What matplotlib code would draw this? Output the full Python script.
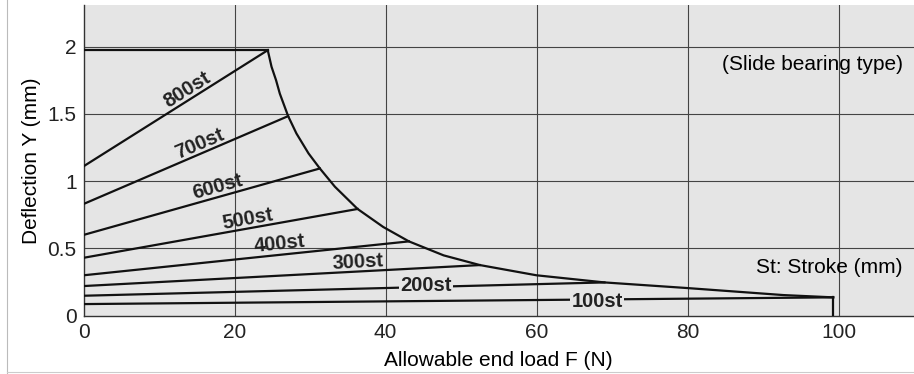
import matplotlib
matplotlib.use("Agg")
import matplotlib.pyplot as plt
from matplotlib.lines import Line2D

plt.rcParams["font.family"] = ["Liberation Sans", "DejaVu Sans"]

# stroke lines: start at F=0, end on the envelope curve
strokes = ["100st", "200st", "300st", "400st", "500st", "600st", "700st", "800st"]
start_y = [0.086, 0.148, 0.22, 0.30, 0.43, 0.60, 0.83, 1.11]
end_f = [99.3, 69.0, 52.5, 43.1, 36.3, 31.3, 27.1, 24.4]
end_y = [0.136, 0.247, 0.376, 0.552, 0.793, 1.094, 1.483, 1.973]

# allowable load envelope
env_f = [24.4, 24.9, 25.5, 26.0, 27.1, 28.2, 29.8, 31.3, 33.3, 36.3, 39.7,
         43.1, 47.7, 52.5, 60.0, 69.0, 80.0, 92.7, 99.3]
env_y = [1.973, 1.85, 1.75, 1.65, 1.483, 1.354, 1.206, 1.094, 0.958, 0.793,
         0.659, 0.552, 0.448, 0.376, 0.30, 0.247, 0.205, 0.153, 0.136]

# label placement
label_f = [68.0, 45.4, 36.4, 26.0, 21.8, 17.8, 15.4, 13.7]
label_y = [0.103, 0.226, 0.40, 0.537, 0.72, 0.955, 1.28, 1.676]
label_rot = [0, 0, 3, 6, 10, 15.5, 23, 32]

xticks = [0, 20, 40, 60, 80, 100]
yticks = [0, 0.5, 1, 1.5, 2]
ytick_labels = ["0", "0.5", "1", "1.5", "2"]

bg = "#e5e5e5"
ink = "#111111"

fig = plt.figure(figsize=(9.14, 3.74), dpi=100)
ax = fig.add_axes([0.0914, 0.156, 0.9086, 0.831])
ax.set_facecolor(bg)
ax.set_xlim(0, 110)
ax.set_ylim(0, 2.31)

for x in xticks[1:]:
    ax.axvline(x, color="#444444", lw=0.8, zorder=1)
for y in yticks[1:]:
    ax.axhline(y, color="#444444", lw=0.8, zorder=1)

for i in range(len(strokes)):
    ax.plot([0, end_f[i]], [start_y[i], end_y[i]], color=ink, lw=1.6, zorder=3)

# top limit and envelope
ax.plot([0, end_f[-1]], [end_y[-1], end_y[-1]], color=ink, lw=1.6, zorder=3)
ax.plot(env_f, env_y, color=ink, lw=1.6, zorder=3)
ax.plot([end_f[0], end_f[0]], [end_y[0], 0], color=ink, lw=1.6, zorder=3)

for i in range(len(strokes)):
    inline = i < 2
    ax.text(label_f[i], label_y[i], strokes[i], rotation=label_rot[i],
            rotation_mode="anchor", ha="center", va="center",
            fontsize=14.5, fontweight="bold", color="#222222", zorder=4,
            bbox=dict(facecolor=bg, edgecolor="none", pad=1.0) if inline else None)

ax.text(108.5, 1.87, "(Slide bearing type)", ha="right", va="center", fontsize=15)
ax.text(108.5, 0.36, "St: Stroke (mm)", ha="right", va="center", fontsize=15)

ax.set_xticks(xticks)
ax.set_yticks(yticks)
ax.set_yticklabels(ytick_labels)
ax.tick_params(length=0, labelsize=15, pad=5, colors="#222222")
ax.set_xlabel("Allowable end load F (N)", fontsize=15, labelpad=7)
ax.set_ylabel("Deflection Y (mm)", fontsize=15, labelpad=5)

for s in ["top", "right"]:
    ax.spines[s].set_visible(False)
for s in ["left", "bottom"]:
    ax.spines[s].set_color("#333333")
    ax.spines[s].set_linewidth(1.0)

# faint outer frame of the scanned figure
fig.add_artist(Line2D([0.008, 0.008], [0.0, 1.0], color="#bbbbbb", lw=0.8))
fig.add_artist(Line2D([0.008, 1.0], [0.006, 0.006], color="#cccccc", lw=0.8))

fig.savefig("out.png", dpi=100)
